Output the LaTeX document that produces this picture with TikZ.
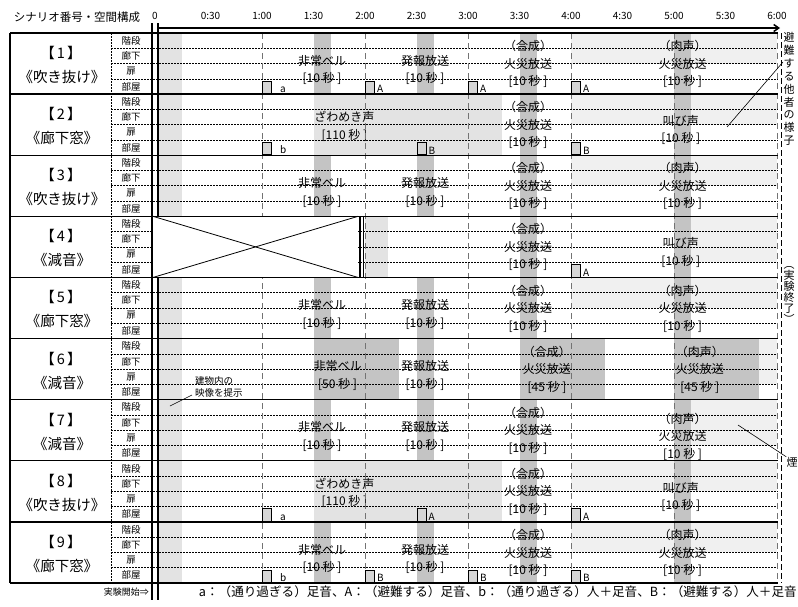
\documentclass[tikz,border=0pt]{standalone}
\usepackage{fontspec}
\setmainfont{Noto Sans CJK JP}
\usetikzlibrary{arrows.meta}

\definecolor{bandgray}{gray}{0.89}
\definecolor{bargray}{gray}{0.77}
\definecolor{palegray}{gray}{0.94}
\definecolor{boxgray}{gray}{0.84}
\definecolor{gridgray}{gray}{0.45}

% time (s) -> x, scenario number -> top of its row
\newcommand{\tx}[1]{159+1.7167*(#1)}
\newcommand{\ry}[1]{33+61.11*((#1)-1)}

\tikzset{
  evtext/.style={font=\fontsize{12}{17.5}\selectfont, align=center, inner sep=0pt},
  sublabel/.style={font=\fontsize{9.5}{10}\selectfont, inner sep=0pt},
  rowlabel/.style={font=\fontsize{14.5}{16}\selectfont, inner sep=0pt},
  timelabel/.style={font=\fontsize{10}{11}\selectfont, inner sep=0pt},
  smalltext/.style={font=\fontsize{9.5}{12}\selectfont, inner sep=0pt},
  sidetext/.style={font=\fontsize{11}{12.9}\selectfont, align=center, inner sep=0pt},
  boxlabel/.style={font=\fontsize{10}{10}\selectfont, inner sep=0pt, anchor=south west},
  fsbox/.style={draw, line width=0.9pt, fill=boxgray, minimum width=9pt, minimum height=12.5pt, inner sep=0pt, anchor=south west},
  rowframe/.style={line width=1.4pt},
  subline/.style={dash pattern=on 1.6pt off 1.4pt, line width=0.6pt},
  minline/.style={gridgray, dash pattern=on 6pt off 4pt, line width=0.8pt},
}

\begin{document}
\begin{tikzpicture}[x=1pt,y=-1pt]
  \useasboundingbox (0,0) rectangle (798,606);

  % opening band (video of the building)
  \foreach \rw in {1,2,3,5,6,7,8,9}
    \fill[bandgray] ({\tx{0}},{\ry{\rw}}) rectangle ({\tx{13.5}},{\ry{\rw}+61.11});
  \fill[bandgray] ({\tx{120}},{\ry{4}}) rectangle ({\tx{133.5}},{\ry{4}+61.11});
  % others evacuating, smoke
  \foreach \rw in {1,2,3,5,8,9}
    \fill[palegray] ({\tx{240}},{\ry{\rw}}) rectangle ({\tx{360}},{\ry{\rw}+30.56});
  \foreach \rw/\a in {4/310,7/310,6/349.5}
    \fill[palegray] ({\tx{\a}},{\ry{\rw}}) rectangle ({\tx{360}},{\ry{\rw}+45.84});
  % murmur
  \foreach \rw in {2,8}
    \fill[bandgray] ({\tx{90}},{\ry{\rw}}) rectangle ({\tx{200}},{\ry{\rw}+61.11});
  % sound bars
  \foreach \rw/\a/\b in {1/90/100,1/150/160,3/90/100,3/150/160,5/90/100,5/150/160,7/90/100,7/150/160,9/90/100,9/150/160,6/90/140,6/150/160,6/210/259.8,6/300/349.5}
    \fill[bargray] ({\tx{\a}},{\ry{\rw}}) rectangle ({\tx{\b}},{\ry{\rw}+61.11});
  \foreach \rw in {1,2,3,4,5,7,8,9}
    \foreach \a in {210,300}
      \fill[bargray] ({\tx{\a}},{\ry{\rw}}) rectangle ({\tx{\a+10}},{\ry{\rw}+61.11});

  % event labels
  \foreach \rw in {1,3,5,7,9}
    \node[evtext] (bell\rw) at ({\tx{95}},{\ry{\rw}+37}) {非常ベル\\{[10 秒 ]}};
  \foreach \rw in {1,3,5,6,7,9}
    \node[evtext] (alarm\rw) at ({\tx{155}},{\ry{\rw}+37}) {発報放送\\{[10 秒 ]}};
  \foreach \rw in {1,2,3,4,5,7,8,9}
    \node[evtext] (synth\rw) at ({\tx{215}},{\ry{\rw}+31}) {（合成）\\火災放送\\{[10 秒 ]}};
  \foreach \rw/\dy in {1/31,3/31,5/31,9/31,7/37}
    \node[evtext] (live\rw) at ({\tx{305}},{\ry{\rw}+\dy}) {（肉声）\\火災放送\\{[10 秒 ]}};
  \foreach \rw in {2,4,8}
    \node[evtext] (shout\rw) at ({\tx{304}},{\ry{\rw}+36}) {叫び声\\{[10 秒 ]}};
  \foreach \rw in {2,8}
    \node[evtext] (murmur\rw) at ({\tx{108}},{\ry{\rw}+32}) {ざわめき声\\{[110 秒 ]}};
  \node[evtext] (bell6) at ({\tx{104}},{\ry{6}+37}) {非常ベル\\{[50 秒 ]}};
  \node[evtext] (synth6) at ({\tx{226}},{\ry{6}+31}) {（合成）\\火災放送\\{[45 秒 ]}};
  \node[evtext] (live6) at ({\tx{315}},{\ry{6}+31}) {（肉声）\\火災放送\\{[45 秒 ]}};

  % grid
  \foreach \rw in {1,...,9}
    \foreach \k in {1,2,3}
      \draw[subline] (111,{\ry{\rw}+15.28*\k}) -- (778,{\ry{\rw}+15.28*\k});
  \foreach \m in {1,...,6}
    \draw[minline] ({\tx{60*\m}},33) -- ({\tx{60*\m}},583);
  \draw[black, dash pattern=on 6pt off 3pt, line width=1pt] (781,33) -- (781,583);
  \draw[subline, line width=0.8pt] (111,33) -- (111,583);

  % scenario 4 starts at 2:00
  \fill[white] (153,{\ry{4}}) rectangle (358,{\ry{5}});
  \draw[line width=0.8pt] (153,{\ry{4}}) -- (358,{\ry{5}});
  \draw[line width=0.8pt] (153,{\ry{5}}) -- (358,{\ry{4}});
  \draw[line width=2pt] (359.5,{\ry{4}}) -- (359.5,{\ry{5}});
  \draw[line width=1pt] (363.5,{\ry{4}}) -- (363.5,{\ry{5}});

  % frame
  \foreach \rw in {1,...,10}
    \draw[rowframe] (10,{\ry{\rw}}) -- (778,{\ry{\rw}});
  \draw[rowframe] (10,{\ry{1}}) -- (10,{\ry{10}});
  \draw[line width=2pt] (152,23) -- (152,600);
  \draw[line width=2pt] (158,23) -- (158,{\ry{4}});
  \draw[line width=2pt] (158,{\ry{5}}) -- (158,600);

  % time axis
  \coordinate (axisstart) at (158,28);
  \coordinate (axisend) at (780,28);
  \draw[line width=1.5pt, -{Straight Barb[length=5pt,width=7pt]}] (axisstart) -- (axisend);
  \node[timelabel] (tick0) at (155,16) {0};
  \foreach \s/\lab in {30/0:30,60/1:00,90/1:30,120/2:00,150/2:30,180/3:00,210/3:30,240/4:00,270/4:30,300/5:00,330/5:30,360/6:00}
    \node[timelabel] (tick\s) at ({\tx{\s}},16) {\lab};
  \node[font=\fontsize{11.5}{12}\selectfont, inner sep=0pt] (header) at (77,17) {シナリオ番号・空間構成};

  % scenario labels
  \foreach \rw/\rname in {1/吹き抜け,2/廊下窓,3/吹き抜け,4/減音,5/廊下窓,6/減音,7/減音,8/吹き抜け,9/廊下窓}{
    \node[rowlabel] (num\rw) at (61,{\ry{\rw}+20}) {【\hspace{0.15em}\rw\hspace{0.15em}】};
    \node[rowlabel] (name\rw) at (62,{\ry{\rw}+44}) {《\rname》};
    \foreach \k/\sub in {0/階段,1/廊下,2/扉,3/部屋}
      \node[sublabel] (sub\rw-\k) at (131,{\ry{\rw}+7.64+15.28*\k}) {\sub};
  }

  % footsteps
  \foreach \rw/\t/\l/\o in {1/60/a/8,1/120/A/2,1/180/A/2,1/240/A/2,2/60/b/8,2/150/B/2,2/240/B/2,4/240/A/2,8/60/a/8,8/150/A/2,8/240/A/2,9/60/b/8,9/120/B/2,9/180/B/2,9/240/B/2}{
    \node[fsbox] (fs\rw-\t) at ({\tx{\t}},{\ry{\rw}+61.11}) {};
    \node[boxlabel] (fl\rw-\t) at ([xshift=\o pt, yshift=1pt]fs\rw-\t.south east) {\l};
  }

  % notes
  \node[smalltext, align=left, anchor=west] (videonote) at (195,387) {建物内の\\映像を提示};
  \coordinate (videopt) at (170,406);
  \draw[line width=0.6pt] (videopt) -- (192,395);
  \node[sidetext] (evacnote) at (789,89) {避\\難\\す\\る\\他\\者\\の\\様\\子};
  \coordinate (evacpt) at (727,127);
  \coordinate (evactip) at (783,62);
  \draw[line width=0.6pt] (evacpt) -- (evactip);
  \node[sidetext, font=\fontsize{11}{11}\selectfont] (endnote) at (789,295) {︵\\実\\験\\終\\了\\︶};
  \node[sidetext] (smoke) at (792,462) {煙};
  \coordinate (smokept) at (738,425);
  \draw[line width=0.6pt] (smokept) -- (smoke.north west);

  % legend
  \node[font=\fontsize{9}{10}\selectfont, inner sep=0pt, anchor=east] (startnote) at (149,592) {実験開始⇒};
  \node[font=\fontsize{12.6}{13}\selectfont, inner sep=0pt, anchor=east] (legend) at (797,592) {a：（通り過ぎる）足音、A：（避難する）足音、b：（通り過ぎる）人＋足音、B：（避難する）人＋足音};
\end{tikzpicture}
\end{document}
